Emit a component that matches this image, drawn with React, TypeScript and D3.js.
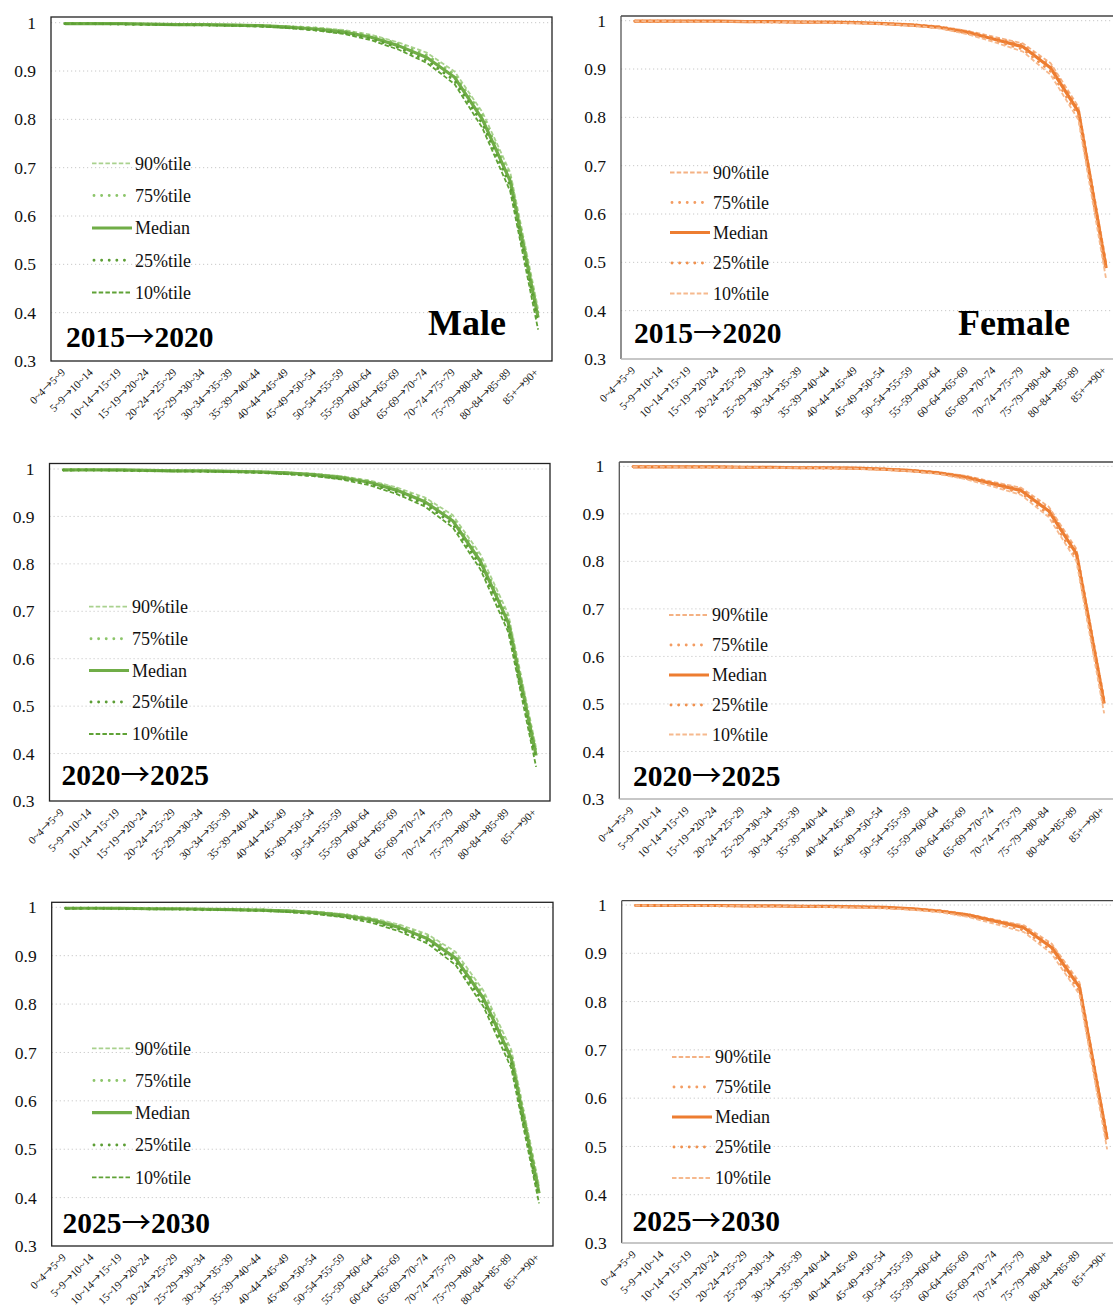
import React from "react";
import * as d3 from "d3";

const categories = ["0~4→5~9","5~9→10~14","10~14→15~19","15~19→20~24","20~24→25~29","25~29→30~34","30~34→35~39","35~39→40~44","40~44→45~49","45~49→50~54","50~54→55~59","55~59→60~64","60~64→65~69","65~69→70~74","70~74→75~79","75~79→80~84","80~84→85~89","85+→90+"];
const yTicks = [0.3, 0.4, 0.5, 0.6, 0.7, 0.8, 0.9, 1];
const seriesNames = ["90%tile", "75%tile", "Median", "25%tile", "10%tile"];
const periods = ["2015→2020", "2020→2025", "2025→2030"];

// Male 2015→2020
const m1520_p90 = [0.998,0.999,0.998,0.997,0.997,0.996,0.996,0.995,0.993,0.990,0.985,0.975,0.959,0.938,0.899,0.815,0.690,0.408];
const m1520_p75 = [0.998,0.998,0.998,0.997,0.996,0.996,0.995,0.994,0.992,0.989,0.983,0.973,0.956,0.933,0.893,0.808,0.681,0.398];
const m1520_med = [0.998,0.998,0.998,0.997,0.996,0.996,0.995,0.994,0.991,0.987,0.981,0.970,0.952,0.928,0.887,0.800,0.672,0.390];
const m1520_p25 = [0.998,0.998,0.997,0.996,0.996,0.995,0.994,0.993,0.990,0.985,0.979,0.967,0.948,0.922,0.880,0.791,0.662,0.380];
const m1520_p10 = [0.997,0.998,0.997,0.996,0.995,0.995,0.994,0.992,0.989,0.984,0.977,0.964,0.944,0.917,0.873,0.782,0.651,0.365];
// Female 2015→2020
const f1520_p90 = [0.999,0.999,0.999,0.999,0.998,0.998,0.998,0.997,0.996,0.995,0.993,0.988,0.979,0.966,0.953,0.912,0.822,0.500];
const f1520_p75 = [0.999,0.999,0.999,0.999,0.998,0.998,0.997,0.997,0.996,0.994,0.992,0.987,0.978,0.964,0.950,0.907,0.817,0.494];
const f1520_med = [0.999,0.999,0.999,0.999,0.998,0.998,0.997,0.997,0.996,0.994,0.991,0.986,0.976,0.961,0.946,0.902,0.812,0.488];
const f1520_p25 = [0.999,0.999,0.999,0.998,0.998,0.997,0.997,0.996,0.995,0.993,0.990,0.985,0.974,0.958,0.941,0.895,0.803,0.478];
const f1520_p10 = [0.999,0.999,0.998,0.998,0.998,0.997,0.997,0.996,0.995,0.993,0.990,0.984,0.972,0.955,0.936,0.888,0.795,0.465];
// Male 2020→2025
const m2025_p90 = [0.998,0.999,0.998,0.997,0.997,0.997,0.996,0.995,0.993,0.990,0.985,0.976,0.961,0.940,0.903,0.820,0.694,0.412];
const m2025_p75 = [0.998,0.998,0.998,0.997,0.997,0.996,0.995,0.994,0.992,0.989,0.984,0.974,0.958,0.936,0.897,0.812,0.685,0.404];
const m2025_med = [0.998,0.998,0.998,0.997,0.996,0.996,0.995,0.994,0.992,0.988,0.982,0.972,0.955,0.931,0.891,0.805,0.676,0.396];
const m2025_p25 = [0.998,0.998,0.997,0.996,0.996,0.995,0.994,0.993,0.990,0.986,0.980,0.969,0.951,0.926,0.884,0.796,0.666,0.386];
const m2025_p10 = [0.997,0.998,0.997,0.996,0.995,0.995,0.994,0.992,0.989,0.985,0.978,0.966,0.947,0.921,0.877,0.788,0.656,0.372];
// Female 2020→2025
const f2025_p90 = [0.999,0.999,0.999,0.999,0.998,0.998,0.998,0.997,0.996,0.995,0.993,0.988,0.980,0.967,0.955,0.915,0.826,0.512];
const f2025_p75 = [0.999,0.999,0.999,0.999,0.998,0.998,0.997,0.997,0.996,0.995,0.992,0.987,0.979,0.965,0.952,0.911,0.821,0.507];
const f2025_med = [0.999,0.999,0.999,0.999,0.998,0.998,0.997,0.997,0.996,0.994,0.991,0.986,0.977,0.963,0.949,0.906,0.816,0.501];
const f2025_p25 = [0.999,0.999,0.999,0.998,0.998,0.997,0.997,0.996,0.995,0.994,0.990,0.985,0.975,0.960,0.944,0.899,0.807,0.491];
const f2025_p10 = [0.999,0.999,0.998,0.998,0.998,0.997,0.997,0.996,0.995,0.993,0.990,0.984,0.973,0.957,0.940,0.893,0.800,0.480];
// Male 2025→2030
const m2530_p90 = [0.998,0.999,0.998,0.998,0.997,0.997,0.996,0.995,0.994,0.991,0.986,0.978,0.964,0.944,0.908,0.828,0.706,0.425];
const m2530_p75 = [0.998,0.998,0.998,0.997,0.997,0.996,0.996,0.995,0.993,0.990,0.985,0.976,0.961,0.940,0.902,0.820,0.697,0.417];
const m2530_med = [0.998,0.998,0.998,0.997,0.997,0.996,0.995,0.994,0.992,0.989,0.983,0.974,0.958,0.935,0.895,0.812,0.688,0.409];
const m2530_p25 = [0.998,0.998,0.997,0.997,0.996,0.995,0.995,0.993,0.991,0.987,0.981,0.971,0.954,0.930,0.888,0.803,0.678,0.400];
const m2530_p10 = [0.997,0.998,0.997,0.996,0.996,0.995,0.994,0.993,0.990,0.986,0.979,0.968,0.950,0.925,0.881,0.795,0.668,0.388];
// Female 2025→2030
const f2530_p90 = [0.999,0.999,0.999,0.999,0.998,0.998,0.998,0.997,0.997,0.995,0.993,0.989,0.981,0.969,0.958,0.920,0.840,0.524];
const f2530_p75 = [0.999,0.999,0.999,0.999,0.998,0.998,0.998,0.997,0.996,0.995,0.992,0.988,0.980,0.968,0.955,0.916,0.835,0.520];
const f2530_med = [0.999,0.999,0.999,0.999,0.998,0.998,0.997,0.997,0.996,0.995,0.992,0.987,0.979,0.966,0.953,0.912,0.830,0.515];
const f2530_p25 = [0.999,0.999,0.999,0.998,0.998,0.998,0.997,0.996,0.996,0.994,0.991,0.986,0.977,0.963,0.948,0.905,0.822,0.505];
const f2530_p10 = [0.999,0.999,0.998,0.998,0.998,0.997,0.997,0.996,0.995,0.993,0.990,0.985,0.975,0.960,0.944,0.899,0.815,0.494];

const greenColors = ["#a9d18e", "#8cc56a", "#70ad47", "#5c9e35", "#5fa236"];
const orangeColors = ["#f4b183", "#f39c62", "#ed7d31", "#f0914f", "#f6b98e"];

type Panel = {
  left: number; top: number; right: number; bottom: number; y1: number;
  sex: string; period: string; data: number[][];
  legendX: number; legendY: number[];
  periodX: number; periodY: number; frame: string;
  sexX?: number; sexY?: number; colors: string[];
};

const panels: Panel[] = [
  { left: 51, top: 17, right: 552, bottom: 361, y1: 22.7, sex: "Male", period: periods[0],
    data: [m1520_p90, m1520_p75, m1520_med, m1520_p25, m1520_p10],
    legendX: 92, legendY: [163.3, 195.5, 228, 260.2, 292.5], periodX: 66, periodY: 347, frame: "left",
    sexX: 428, sexY: 335, colors: greenColors },
  { left: 621, top: 16, right: 1120, bottom: 359, y1: 20.7, sex: "Female", period: periods[0],
    data: [f1520_p90, f1520_p75, f1520_med, f1520_p25, f1520_p10],
    legendX: 670, legendY: [172.5, 202.5, 232.5, 263, 293.5], periodX: 634, periodY: 343, frame: "right",
    sexX: 958, sexY: 335, colors: orangeColors },
  { left: 49.5, top: 463.5, right: 550, bottom: 801, y1: 469, sex: "Male", period: periods[1],
    data: [m2025_p90, m2025_p75, m2025_med, m2025_p25, m2025_p10],
    legendX: 89, legendY: [606.7, 638.7, 670.5, 702, 734], periodX: 61.5, periodY: 784.5, frame: "left",
    colors: greenColors },
  { left: 619.3, top: 462, right: 1118, bottom: 799, y1: 466.3, sex: "Female", period: periods[1],
    data: [f2025_p90, f2025_p75, f2025_med, f2025_p25, f2025_p10],
    legendX: 669, legendY: [615, 645, 675, 705, 734.5], periodX: 633, periodY: 786, frame: "right",
    colors: orangeColors },
  { left: 51.7, top: 902.3, right: 553, bottom: 1246, y1: 907.3, sex: "Male", period: periods[2],
    data: [m2530_p90, m2530_p75, m2530_med, m2530_p25, m2530_p10],
    legendX: 92, legendY: [1048.3, 1080.5, 1112.7, 1145, 1177.3], periodX: 62.5, periodY: 1233, frame: "left",
    colors: greenColors },
  { left: 621.7, top: 900.7, right: 1121, bottom: 1243, y1: 905, sex: "Female", period: periods[2],
    data: [f2530_p90, f2530_p75, f2530_med, f2530_p25, f2530_p10],
    legendX: 672, legendY: [1057, 1087, 1117, 1147, 1178], periodX: 632.5, periodY: 1231, frame: "right",
    colors: orangeColors },
];

const FONT = "'Liberation Serif', 'Times New Roman', serif";
const ARROW_FONT = "'Noto Sans CJK SC', 'DejaVu Sans', sans-serif";

function withArrow(s: string) {
  const parts = s.split("→");
  return parts.map((part, i) => (
    <React.Fragment key={i}>
      {i > 0 && <tspan fontFamily={ARROW_FONT} fontWeight="normal">→</tspan>}
      <tspan>{part}</tspan>
    </React.Fragment>
  ));
}

function strokeStyle(i: number) {
  if (i === 0) return { width: 1.8, dash: "4.5 2.2", cap: "butt" };
  if (i === 1) return { width: 2.9, dash: "0.01 7.6", cap: "round" };
  if (i === 2) return { width: 3.2, dash: undefined, cap: "butt" };
  if (i === 3) return { width: 2.9, dash: "0.01 7.6", cap: "round" };
  return { width: 1.8, dash: "4.5 2.2", cap: "butt" };
}

function PanelView({ p }: { p: Panel }) {
  const x = d3.scaleBand<string>().domain(categories).range([p.left, p.right]);
  const y = d3.scaleLinear().domain([0.3, 1]).range([p.bottom, p.y1]);
  const cx = (c: string) => (x(c) as number) + x.bandwidth() / 2;
  const line = d3.line<number>().x((_, i) => cx(categories[i])).y((v) => y(v));
  return (
    <g>
      {yTicks.filter((t) => t > 0.3).map((t) => (
        <line key={t} x1={p.left} x2={p.right} y1={y(t)} y2={y(t)} stroke="#c8c8c8" strokeWidth={1} strokeDasharray="1.2 2.8" />
      ))}
      {p.frame === "left" ? (
        <rect x={p.left} y={p.top} width={p.right - p.left} height={p.bottom - p.top} fill="none" stroke="#222" strokeWidth={1.3} />
      ) : (
        <g>
          <line x1={p.left} x2={p.right} y1={p.top} y2={p.top} stroke="#444" strokeWidth={1.3} />
          <line x1={p.left} x2={p.left} y1={p.top} y2={p.bottom} stroke="#555" strokeWidth={1.3} />
          <line x1={p.left} x2={p.right} y1={p.bottom} y2={p.bottom} stroke="#b5b5b5" strokeWidth={1.3} />
        </g>
      )}
      {yTicks.map((t) => (
        <text key={t} x={p.left - 15} y={y(t)} dy="0.35em" textAnchor="end" fontFamily={FONT} fontSize={17.5} fill="#111">
          {String(t)}
        </text>
      ))}
      {categories.map((c) => (
        <text key={c} transform={`translate(${cx(c) + 1},${p.bottom + 12}) rotate(-45)`} textAnchor="end" fontFamily={FONT} fontSize={11} fill="#111">
          {withArrow(c)}
        </text>
      ))}
      {p.data.map((d, i) => {
        const s = strokeStyle(i);
        return (
          <path key={i} d={line(d) || ""} fill="none" stroke={p.colors[i]} strokeWidth={s.width}
            strokeDasharray={s.dash} strokeLinecap={s.cap as any} strokeLinejoin="round" />
        );
      })}
      {seriesNames.map((n, i) => {
        const s = strokeStyle(i);
        const ly = p.legendY[i];
        return (
          <g key={n}>
            <line x1={p.legendX + (s.cap === "round" ? 2 : 0)} x2={p.legendX + 40} y1={ly} y2={ly} stroke={p.colors[i]} strokeWidth={s.width}
              strokeDasharray={s.dash} strokeLinecap={s.cap as any} />
            <text x={p.legendX + 43} y={ly} dy="0.35em" fontFamily={FONT} fontSize={18} fill="#111">{n}</text>
          </g>
        );
      })}
      <text x={p.periodX} y={p.periodY} fontFamily={FONT} fontSize={29.5} fontWeight="bold" fill="#000">{withArrow(p.period)}</text>
      {p.sexX !== undefined && (
        <text x={p.sexX} y={p.sexY} fontFamily={FONT} fontSize={36} fontWeight="bold" fill="#000">{p.sex}</text>
      )}
    </g>
  );
}

export default function App() {
  return (
    <svg width={1113} height={1316} style={{ position: "absolute", left: 0, top: 0, background: "#fff" }}>
      <rect x={0} y={0} width={1113} height={1316} fill="#fff" />
      {panels.map((p, i) => (
        <PanelView key={i} p={p} />
      ))}
    </svg>
  );
}
